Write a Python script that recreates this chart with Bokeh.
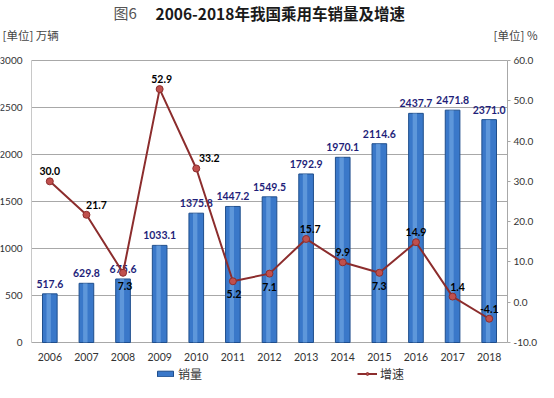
from bokeh.plotting import figure
from bokeh.models import (ColumnDataSource, Range1d, LinearAxis, Legend, LegendItem,
                          Label, FactorRange, NumeralTickFormatter, FixedTicker, Grid)
from bokeh.core.properties import value
from bokeh.transform import dodge
from bokeh.embed import file_html
from bokeh.resources import INLINE

# ---- data ----
years = ["2006", "2007", "2008", "2009", "2010", "2011", "2012",
         "2013", "2014", "2015", "2016", "2017", "2018"]
sales = [517.6, 629.8, 675.6, 1033.1, 1375.8, 1447.2, 1549.5,
         1792.9, 1970.1, 2114.6, 2437.7, 2471.8, 2371.0]
growth = [30.0, 21.7, 7.3, 52.9, 33.2, 5.2, 7.1, 15.7, 9.9, 7.3, 14.9, 1.4, -4.1]
sales_ticks = [0, 500, 1000, 1500, 2000, 2500, 3000]
growth_ticks = [-10, 0, 10, 20, 30, 40, 50, 60]

title_prefix = "图6"
title_main = "2006-2018年我国乘用车销量及增速"
left_unit = "[单位] 万辆"
right_unit = "[单位] %"
series_names = ["销量", "增速"]

# label placement (style)
growth_label_side = ["above", "above", "below", "above", "above", "below", "below",
                     "above", "above", "below", "above", "above", "above"]
growth_label_dx = [0, 10, 2, 2, 13, 1, 0, 4, 0, 0, 0, 5, 0]

CJK = "Noto Sans CJK SC"
NUM = "Lato"

# ---- layout (pixels) ----
W, H = 538, 382
SIDE_PAD = 31                 # blank px left of first band / right of last band
PLOT_TOP, PLOT_BOTTOM = 60, 342
band_px = (W - 2 * SIDE_PAD) / len(years)
pad_units = SIDE_PAD / band_px

s_lo, s_hi = sales_ticks[0], sales_ticks[-1]
g_lo, g_hi = growth_ticks[0], growth_ticks[-1]
plot_h = PLOT_BOTTOM - PLOT_TOP
s_per_px = (s_hi - s_lo) / plot_h
g_per_px = (g_hi - g_lo) / plot_h
below_px = H - PLOT_BOTTOM

x_range = FactorRange(*years, range_padding=2 * pad_units / len(years),
                      range_padding_units="percent")
p = figure(x_range=x_range,
           y_range=Range1d(s_lo - below_px * s_per_px, s_hi + PLOT_TOP * s_per_px),
           width=W, height=H, output_backend="svg", toolbar_location=None,
           min_border_left=0, min_border_right=0, min_border_top=0, min_border_bottom=0)
p.extra_y_ranges = {"rate": Range1d(g_lo - below_px * g_per_px, g_hi + PLOT_TOP * g_per_px)}
p.outline_line_color = None

# grid
p.xgrid.grid_line_color = None
p.ygrid.ticker = FixedTicker(ticks=sales_ticks)
p.ygrid.grid_line_color = "#a8a8a8"
p.ygrid.grid_line_width = 1
if "cross_bounds" in Grid.properties():
    p.ygrid.cross_bounds = (0, len(years))
else:
    p.ygrid.visible = False
    p.segment(x0=[0] * len(sales_ticks), x1=[len(years)] * len(sales_ticks),
              y0=sales_ticks, y1=sales_ticks, line_color="#a8a8a8", line_width=1)

# left axis
yax = p.yaxis[0]
yax.ticker = FixedTicker(ticks=sales_ticks)
yax.fixed_location = 0
yax.bounds = (s_lo, s_hi)
yax.axis_line_color = "#c8c8c8"
yax.major_tick_line_color = None
yax.minor_tick_line_color = None
yax.major_label_standoff = 3
yax.major_label_text_font = NUM
yax.major_label_text_font_size = "10px"
yax.major_label_text_color = "#333333"

# bottom axis
xax = p.xaxis[0]
xax.fixed_location = 0
xax.axis_line_color = None
xax.major_tick_line_color = None
xax.major_label_standoff = 4
xax.major_label_text_font = NUM
xax.major_label_text_font_size = "10.5px"
xax.major_label_text_color = "#333333"

# right axis
ax_r = LinearAxis(y_range_name="rate", ticker=FixedTicker(ticks=growth_ticks),
                  formatter=NumeralTickFormatter(format="0.0"))
ax_r.fixed_location = len(years)
ax_r.bounds = (g_lo, g_hi)
ax_r.axis_line_color = "#a8a8a8"
ax_r.major_tick_line_color = "#a8a8a8"
ax_r.major_tick_out = 3
ax_r.major_tick_in = 0
ax_r.minor_tick_line_color = None
ax_r.major_label_standoff = 3
ax_r.major_label_text_font = NUM
ax_r.major_label_text_font_size = "10px"
ax_r.major_label_text_color = "#333333"
p.add_layout(ax_r, "right")

src = ColumnDataSource(dict(
    year=years, sales=sales, growth=growth,
    sales_txt=[f"{v:.1f}" for v in sales],
    growth_txt=[f"{v:.1f}" for v in growth],
    gdy=[-10 if s == "above" else 13 for s in growth_label_side],
    gdx=growth_label_dx,
))

bars = p.vbar(x="year", top="sales", width=0.4, source=src,
              fill_color="#3a78c9", line_color="#1f4e8c", line_width=1)
p.vbar(x=dodge("year", -0.03, range=p.x_range), top="sales", width=0.12, source=src,
       fill_color="#8cbcf0", fill_alpha=0.45, line_color=None)

p.text(x="year", y="sales", text="sales_txt", source=src,
       text_align="center", text_baseline="middle", y_offset=-10,
       text_font=value(NUM), text_font_style="bold", text_font_size="10.5px",
       text_color="#1f1f7a")

line = p.line(x="year", y="growth", source=src, y_range_name="rate",
              line_color="#8c2d2d", line_width=2)
dots = p.scatter(x="year", y="growth", source=src, y_range_name="rate",
                 size=7, fill_color="#c0504d", line_color="#8c2d2d", line_width=1)

p.text(x="year", y="growth", text="growth_txt", source=src, y_range_name="rate",
       text_align="center", text_baseline="middle", x_offset="gdx", y_offset="gdy",
       text_font=value(NUM), text_font_style="bold", text_font_size="10.5px",
       text_color="#000000")

# title and unit captions (screen px from the frame's bottom-left; frame == canvas)
p.add_layout(Label(x=113, y=H - 12, x_units="screen", y_units="screen",
                   text=title_prefix, text_font=CJK, text_font_size="15px",
                   text_color="#555555", text_baseline="middle"))
p.add_layout(Label(x=155, y=H - 12, x_units="screen", y_units="screen",
                   text=title_main, text_font=CJK, text_font_size="15.5px",
                   text_font_style="bold", text_color="#1a1a1a", text_baseline="middle"))
p.add_layout(Label(x=2, y=H - 34, x_units="screen", y_units="screen",
                   text=left_unit, text_font=CJK, text_font_size="11.5px",
                   text_color="#444444", text_baseline="middle"))
p.add_layout(Label(x=W - 1, y=H - 34, x_units="screen", y_units="screen",
                   text=right_unit, text_font=CJK, text_font_size="11.5px",
                   text_color="#444444", text_baseline="middle", text_align="right"))

legend = Legend(items=[LegendItem(label=series_names[0], renderers=[bars]),
                       LegendItem(label=series_names[1], renderers=[line, dots])],
                orientation="horizontal", location=(155, 0),
                spacing=155, padding=0, margin=0,
                glyph_width=20, glyph_height=7, label_height=14,
                label_text_font=CJK, label_text_font_size="12px",
                label_text_color="#333333", label_standoff=3,
                border_line_color=None, background_fill_alpha=0)
p.add_layout(legend, "center")

open("out.html", "w").write(file_html(p, INLINE))
